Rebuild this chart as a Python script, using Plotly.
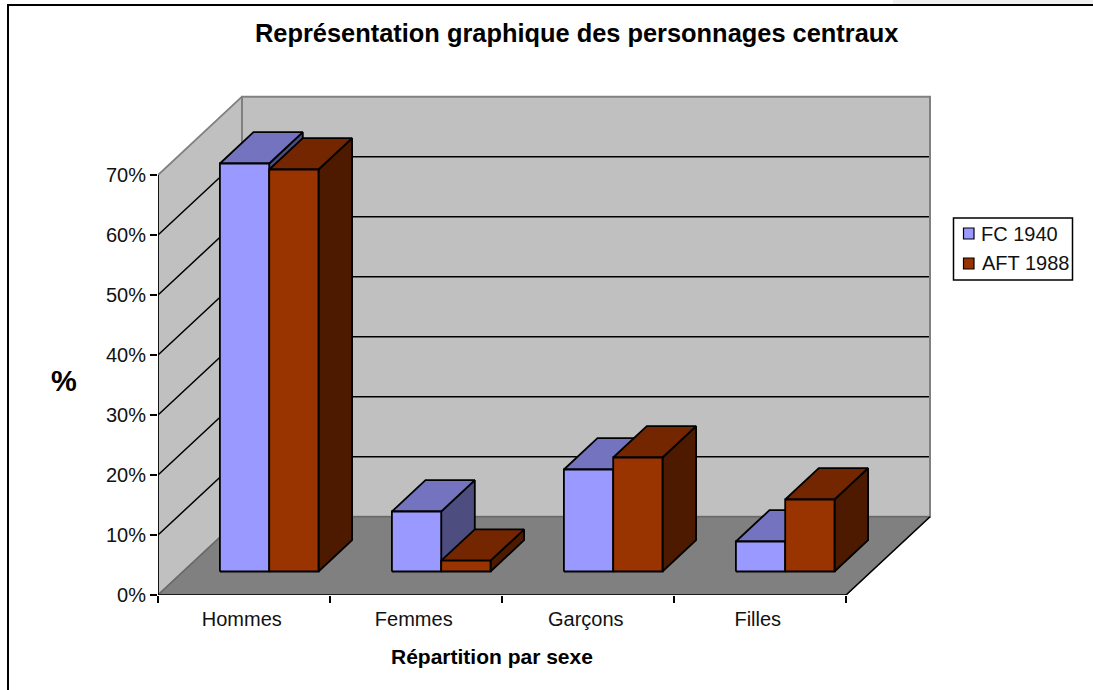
import plotly.graph_objects as go

# ---- data -------------------------------------------------------------
categories = ["Hommes", "Femmes", "Garçons", "Filles"]
fc_1940 = [68, 10, 17, 5]
aft_1988 = [67, 1.8, 19, 12]
series_names = ["FC 1940", "AFT 1988"]
y_ticks = [0, 10, 20, 30, 40, 50, 60, 70]

# ---- page / projection settings ----------------------------------------
W, H = 1093, 690
L, R, T, B = 158, 940, 90, 595   # plot box, slightly larger than the walls
CAT_PX = 172
XMAX = (R - L) / CAT_PX
DX = 84 / CAT_PX           # depth shift in category units
DY = 78.3 / 6              # depth shift in percent units
YMAX = (B - T) / 6
D0, D1 = 0.30, 0.70        # bar front / back depth
BAR = 0.2866               # bar width in category units
BLACK = "#000000"
FONT = "Liberation Sans, Arial, sans-serif"
TXT = "#111111"

fig = go.Figure()


def poly(points, fill, line=BLACK, width=1.8):
    xs = [p[0] for p in points] + [points[0][0]]
    ys = [p[1] for p in points] + [points[0][1]]
    fig.add_trace(go.Scatter(x=xs, y=ys, mode="lines", fill="toself", fillcolor=fill,
                             line=dict(color=line, width=width), hoverinfo="skip",
                             showlegend=False, cliponaxis=False))


def seg(points, color=BLACK, width=1.5):
    fig.add_trace(go.Scatter(x=[p[0] for p in points], y=[p[1] for p in points], mode="lines",
                             line=dict(color=color, width=width), hoverinfo="skip",
                             showlegend=False, cliponaxis=False))


def pr(x, v, d):
    """oblique projection: category position, value, depth 0..1"""
    return (x + d * DX, v + d * DY)


# walls and floor
n = len(categories)
poly([pr(0, 0, 0), pr(0, 0, 1), pr(0, 70, 1), pr(0, 70, 0)], "#C0C0C0", "#808080", 1.8)
poly([pr(0, 0, 1), pr(n, 0, 1), pr(n, 70, 1), pr(0, 70, 1)], "#C0C0C0", "#808080", 2)
poly([pr(0, 0, 0), pr(n, 0, 0), pr(n, 0, 1), pr(0, 0, 1)], "#808080", "#686868", 1.5)
seg([pr(n, 0, 0), pr(n, 0, 1)], BLACK, 1.4)

# gridlines on the walls
for v in y_ticks[1:-1]:
    seg([pr(0, v, 0), pr(0, v, 1), pr(n - 0.006, v, 1)], BLACK, 1.5)

# axis lines
seg([(0, 0), (0, 70)], BLACK, 1.7)
seg([(0, 0), (n, 0)], BLACK, 1.7)


def bar3d(x0, value, front, top, side):
    x1 = x0 + BAR
    poly([pr(x1, 0, D0), pr(x1, 0, D1), pr(x1, value, D1), pr(x1, value, D0)], side)
    poly([pr(x0, value, D0), pr(x1, value, D0), pr(x1, value, D1), pr(x0, value, D1)], top)
    poly([pr(x0, 0, D0), pr(x1, 0, D0), pr(x1, value, D0), pr(x0, value, D0)], front)


for i in range(n):
    c = i + 0.5
    bar3d(c - BAR, fc_1940[i], "#9999FF", "#7373BF", "#4D4D80")
    bar3d(c, aft_1988[i], "#993300", "#732600", "#4D1A00")


# ---- page-level helpers ---------------------------------------------------
def px(x):
    return (x - L) / (R - L)


def py(y):
    return (B - y) / (B - T)


shapes = [
    dict(type="rect", xref="paper", yref="paper", x0=px(893), x1=px(1093), y0=py(0), y1=py(4),
         fillcolor="#F0F0F0", line=dict(width=0), layer="below"),
    dict(type="rect", xref="paper", yref="paper", x0=px(8), x1=px(1100), y0=py(5), y1=py(700),
         fillcolor="rgba(0,0,0,0)", line=dict(color=BLACK, width=2), layer="below"),
    dict(type="rect", xref="paper", yref="paper", x0=px(953.5), x1=px(1072.5), y0=py(218), y1=py(280),
         fillcolor="#FFFFFF", line=dict(color=BLACK, width=1.5)),
    dict(type="rect", xref="paper", yref="paper", x0=px(963.5), x1=px(974), y0=py(228), y1=py(239),
         fillcolor="#9999FF", line=dict(color=BLACK, width=1.2)),
    dict(type="rect", xref="paper", yref="paper", x0=px(963.5), x1=px(974), y0=py(258), y1=py(269),
         fillcolor="#993300", line=dict(color=BLACK, width=1.2)),
]


def note(text, x, y, size, bold=False, anchor="center"):
    return dict(text=f"<b>{text}</b>" if bold else text, xref="paper", yref="paper", x=px(x), y=py(y),
                xanchor=anchor, yanchor="middle", showarrow=False,
                font=dict(family=FONT, size=size, color=BLACK if bold else TXT))


annotations = [
    note("Représentation graphique des personnages centraux", 576.5, 33, 25.4, True),
    note("%", 64, 381, 29, True),
    note("Répartition par sexe", 492, 656.5, 21, True),
    note(series_names[0], 979.5, 234, 20, anchor="left"),
    note(series_names[1], 980, 263, 20, anchor="left"),
]

fig.update_layout(
    width=W, height=H, autosize=False,
    margin=dict(l=L, r=W - R, t=T, b=H - B, pad=0),
    paper_bgcolor="#FFFFFF", plot_bgcolor="rgba(0,0,0,0)",
    showlegend=False, shapes=shapes, annotations=annotations,
    xaxis=dict(range=[0, XMAX], showgrid=False, zeroline=False, showline=False,
               tickmode="array", tickvals=[i + 0.487 for i in range(n)], ticktext=categories,
               ticks="outside", ticklen=0, tickcolor=BLACK, ticklabelstandoff=6,
               tickfont=dict(family=FONT, size=20, color=TXT),
               minor=dict(tickmode="array", tickvals=list(range(n + 1)), ticks="outside",
                          ticklen=7, tickwidth=1.5, tickcolor=BLACK, showgrid=False)),
    yaxis=dict(range=[0, YMAX], showgrid=False, zeroline=False, showline=False,
               tickmode="array", tickvals=y_ticks, ticktext=[f"{v}%" for v in y_ticks],
               ticks="outside", ticklen=7, tickwidth=1.5, tickcolor=BLACK,
               tickfont=dict(family=FONT, size=20, color=TXT)),
)

fig.write_html("out.html", post_script="document.body.style.margin='0';document.body.style.overflow='hidden';",
               config={"displayModeBar": False})
